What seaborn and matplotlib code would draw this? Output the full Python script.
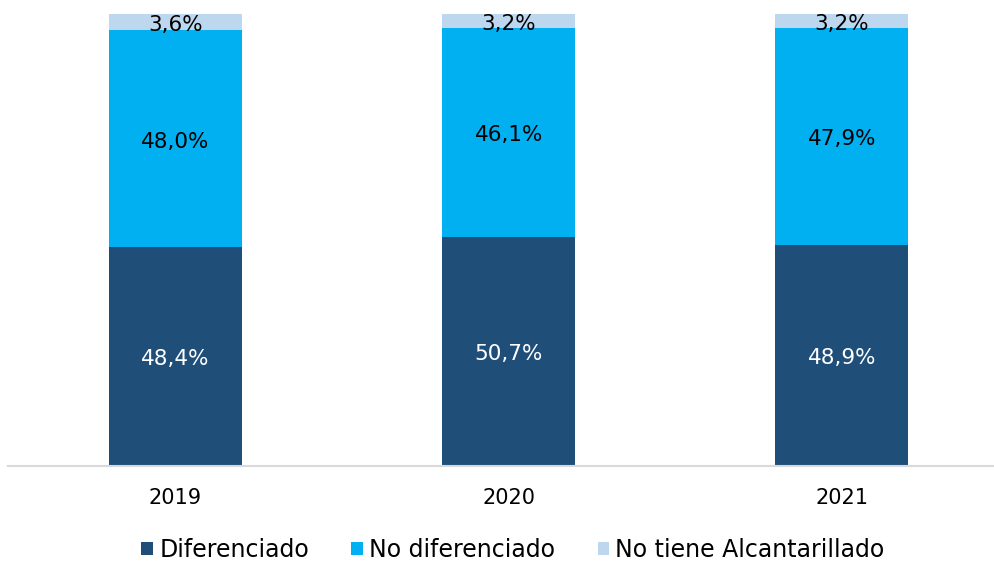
import matplotlib
matplotlib.use("Agg")
import matplotlib.pyplot as plt
import seaborn as sns
import pandas as pd
import numpy as np
from matplotlib.patches import Patch
from matplotlib.transforms import offset_copy

years = ["2019", "2020", "2021"]
diferenciado = [48.4, 50.7, 48.9]
no_diferenciado = [48.0, 46.1, 47.9]
no_tiene = [3.6, 3.2, 3.2]
series_names = ["Diferenciado", "No diferenciado", "No tiene Alcantarillado"]
colors = ["#1F4E79", "#00B0F0", "#BDD7EE"]
label_colors = ["white", "black", "black"]

sns.set_theme(style="white")
plt.rcParams['font.family'] = ['DejaVu Sans']
plt.rcParams['text.color'] = 'black'

fig = plt.figure(figsize=(9.95, 5.63), dpi=100)
ax = fig.add_axes([8/995, 97/563, 987/995, 452/563])

vals = [diferenciado, no_diferenciado, no_tiene]
cum = np.cumsum(np.array(vals), axis=0)
# draw from top layer down so lower layers overlay
for i in range(2, -1, -1):
    df = pd.DataFrame({"year": years, "value": cum[i]})
    sns.barplot(data=df, x="year", y="value", color=colors[i], width=0.4,
                saturation=1, ax=ax, errorbar=None, linewidth=0)

trans = offset_copy(ax.transData, fig=fig, x=0, y=-2, units="points")
for i in range(3):
    for j, y in enumerate(years):
        bottom = cum[i][j] - vals[i][j]
        mid = bottom + vals[i][j] / 2
        txt = f"{vals[i][j]:.1f}%".replace(".", ",")
        ax.text(j, mid, txt, ha="center", va="center", color=label_colors[i],
                fontsize=15.5, transform=trans)

ax.set_ylim(0, 100)
ax.set_xlim(-0.503, 2.46)
ax.set_xlabel("")
ax.set_ylabel("")
ax.set_yticks([])
for s in ["top", "right", "left"]:
    ax.spines[s].set_visible(False)
ax.spines["bottom"].set_color("#D9D9D9")
ax.spines["bottom"].set_linewidth(1.5)
ax.tick_params(axis="x", length=0, labelsize=15, colors="#000000", pad=16)

handles = [Patch(facecolor=c, edgecolor="none") for c in colors]
leg = fig.legend(handles, series_names, loc="center", bbox_to_anchor=(513/995, 1 - 550/563),
                 ncol=3, frameon=False, fontsize=17, handlelength=0.5, handleheight=0.5,
                 handletextpad=0.25, columnspacing=1.8)
for t in leg.get_texts():
    t.set_color("black")

fig.savefig("out.png", dpi=100)
